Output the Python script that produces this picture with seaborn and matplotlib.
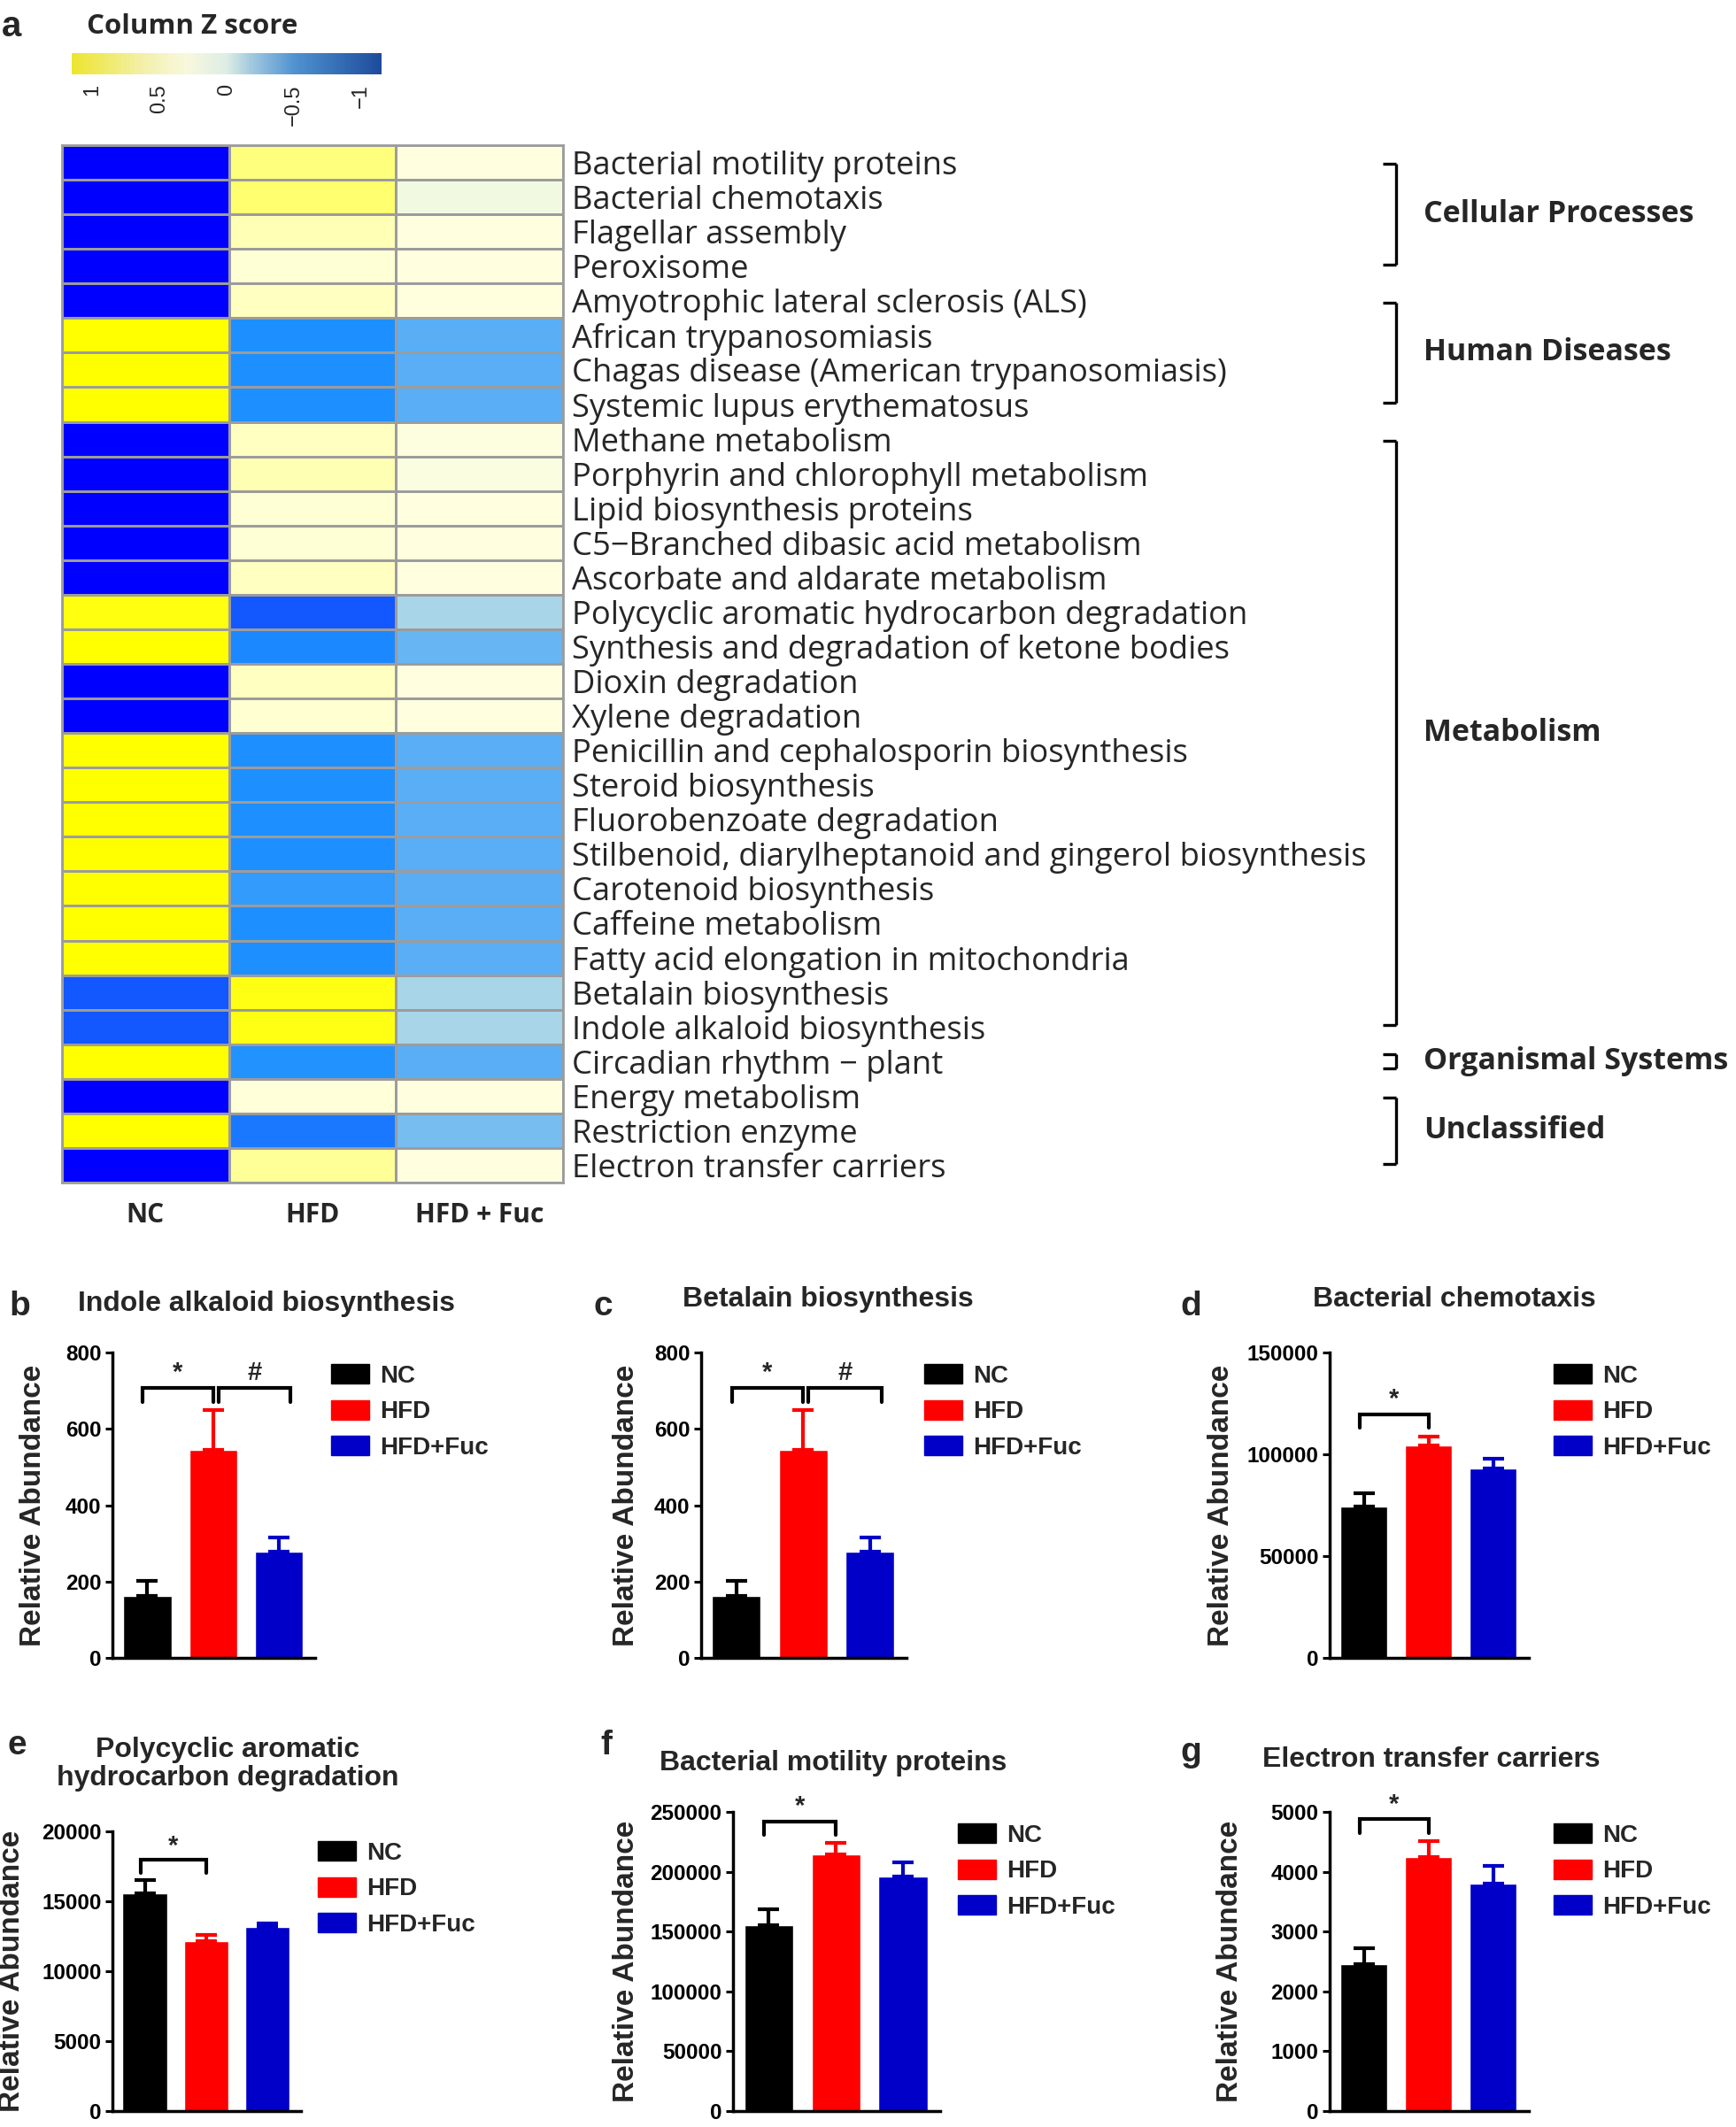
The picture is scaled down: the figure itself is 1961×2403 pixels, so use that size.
import numpy as np
import pandas as pd
import matplotlib
matplotlib.use("Agg")
import matplotlib.pyplot as plt
import seaborn as sns
from matplotlib.colors import LinearSegmentedColormap, Normalize
from matplotlib.cm import ScalarMappable
from matplotlib.lines import Line2D
from matplotlib.patches import Patch
from matplotlib.transforms import blended_transform_factory

# ---- heatmap data (column Z scores) ----
pathways = [
    "Bacterial motility proteins", "Bacterial chemotaxis", "Flagellar assembly",
    "Peroxisome", "Amyotrophic lateral sclerosis (ALS)", "African trypanosomiasis",
    "Chagas disease (American trypanosomiasis)", "Systemic lupus erythematosus",
    "Methane metabolism", "Porphyrin and chlorophyll metabolism",
    "Lipid biosynthesis proteins", "C5\u2212Branched dibasic acid metabolism",
    "Ascorbate and aldarate metabolism", "Polycyclic aromatic hydrocarbon degradation",
    "Synthesis and degradation of ketone bodies", "Dioxin degradation",
    "Xylene degradation", "Penicillin and cephalosporin biosynthesis",
    "Steroid biosynthesis", "Fluorobenzoate degradation",
    "Stilbenoid, diarylheptanoid and gingerol biosynthesis",
    "Carotenoid biosynthesis", "Caffeine metabolism",
    "Fatty acid elongation in mitochondria", "Betalain biosynthesis",
    "Indole alkaloid biosynthesis", "Circadian rhythm \u2212 plant",
    "Energy metabolism", "Restriction enzyme", "Electron transfer carriers",
]
z_nc = [-1.15, -1.15, -1.15, -1.15, -1.15, 1.15, 1.15, 1.15, -1.15, -1.15,
        -1.15, -1.15, -1.15, 1.10, 1.15, -1.15, -1.15, 1.15, 1.15, 1.15,
        1.15, 1.15, 1.15, 1.15, -0.82, -0.82, 1.15, -1.15, 1.15, -1.15]
z_hfd = [0.70, 0.75, 0.50, 0.38, 0.46, -0.60, -0.60, -0.60, 0.46, 0.51,
         0.38, 0.38, 0.46, -0.82, -0.63, 0.46, 0.40, -0.60, -0.60, -0.60,
         -0.60, -0.51, -0.60, -0.60, 1.08, 1.08, -0.58, 0.37, -0.69, 0.61]
z_fuc = [0.35, 0.29, 0.35, 0.35, 0.36, -0.35, -0.35, -0.35, 0.34, 0.33,
         0.35, 0.35, 0.35, -0.02, -0.29, 0.35, 0.35, -0.35, -0.35, -0.35,
         -0.35, -0.36, -0.35, -0.35, -0.02, -0.02, -0.35, 0.35, -0.22, 0.35]
heat_cols = ["NC", "HFD", "HFD + Fuc"]

groups = ["Cellular Processes", "Human Diseases", "Metabolism",
          "Organismal Systems", "Unclassified"]
group_first = [0, 4, 8, 26, 27]
group_last = [3, 7, 25, 26, 29]

cbar_ticks = [1, 0.5, 0, -0.5, -1]
cbar_labels = ["1", "0.5", "0", "\u22120.5", "\u22121"]

# ---- bar panel data ----
bar_groups = ["NC", "HFD", "HFD+Fuc"]
bar_colors = ["#000000", "#FF0000", "#0000C8"]

titles = ["Indole alkaloid biosynthesis", "Betalain biosynthesis",
          "Bacterial chemotaxis", "Polycyclic aromatic\nhydrocarbon degradation",
          "Bacterial motility proteins", "Electron transfer carriers"]
letters = ["b", "c", "d", "e", "f", "g"]
means = [[162, 546, 278], [162, 546, 278], [74400, 104500, 93200],
         [15550, 12160, 13170], [155100, 214200, 196300], [2450, 4250, 3800]]
sems = [[39, 103, 37], [39, 103, 37], [6500, 4400, 4600],
        [960, 430, 270], [13800, 9700, 11400], [275, 266, 305]]
ymaxes = [800, 800, 150000, 20000, 250000, 5000]
ysteps = [200, 200, 50000, 5000, 50000, 1000]
comparisons = [[(0, 1, "*"), (1, 2, "#")], [(0, 1, "*"), (1, 2, "#")],
               [(0, 1, "*")], [(0, 1, "*")], [(0, 1, "*")], [(0, 1, "*")]]

sns.set_theme(style="white")
plt.rcParams["font.family"] = ["Liberation Sans", "DejaVu Sans"]
plt.rcParams["axes.unicode_minus"] = True

W, H = 1961, 2403
fig = plt.figure(figsize=(W / 100, H / 100), dpi=100)


def px_axes(x0, y0, x1, y1):
    return fig.add_axes([x0 / W, 1 - y1 / H, (x1 - x0) / W, (y1 - y0) / H])


ui_font = ["Open Sans", "DejaVu Sans"]

# ---- panel a: heatmap ----
zdf = pd.DataFrame({heat_cols[0]: z_nc, heat_cols[1]: z_hfd, heat_cols[2]: z_fuc},
                   index=pathways)
zlim = 2 / np.sqrt(3)
heat_cmap = LinearSegmentedColormap.from_list(
    "heat", [(0.0, "#0000FF"), ((zlim - 0.6) / (2 * zlim), "#1E90FF"),
             (0.5, "#ADD8E6"), ((zlim + 0.35) / (2 * zlim), "#FFFFE0"),
             (1.0, "#FFFF00")])
ax_hm = px_axes(70, 164, 636, 1336)
sns.heatmap(zdf, cmap=heat_cmap, vmin=-zlim, vmax=zlim, linewidths=2.0,
            linecolor="#9c9c9c", cbar=False, ax=ax_hm)
for s in ax_hm.spines.values():
    s.set_visible(True)
    s.set_color("#9c9c9c")
    s.set_linewidth(2.0)
ax_hm.yaxis.tick_right()
ax_hm.set_yticks(np.arange(len(pathways)) + 0.5)
ax_hm.set_yticklabels(pathways, rotation=0, fontsize=26.2, family=ui_font)
ax_hm.set_xticklabels(heat_cols, rotation=0, fontsize=21.5, fontweight="bold",
                      family=ui_font)
ax_hm.tick_params(axis="y", length=0, pad=7)
ax_hm.tick_params(axis="x", length=0, pad=16)
ax_hm.set_xlabel("")
ax_hm.set_ylabel("")

# colour key
cbar_cmap = LinearSegmentedColormap.from_list(
    "key", [(0.0, "#1E4B9C"), (0.28, "#4F92D0"), (0.43, "#A9CDE0"),
            (0.5, "#DDEDE5"), (0.63, "#F8F8DD"), (0.76, "#F3F0B0"),
            (1.0, "#EDE52E")])
cax = px_axes(81, 60, 431, 84)
cb = fig.colorbar(ScalarMappable(norm=Normalize(-zlim, zlim), cmap=cbar_cmap),
                  cax=cax, orientation="horizontal")
cb.outline.set_visible(False)
cax.invert_xaxis()
cb.set_ticks(cbar_ticks)
cb.set_ticklabels(cbar_labels)
cax.tick_params(axis="x", length=0, pad=8, labelsize=17, labelrotation=90)
fig.text(98 / W, 1 - 30 / H, "Column Z score", fontsize=22.5, fontweight="bold",
         family=ui_font, va="center", ha="left")
fig.text(2 / W, 1 - 30 / H, "a", fontsize=29, fontweight="bold", va="center")

# category brackets
trans = blended_transform_factory(fig.transFigure, ax_hm.transData)
bx, tx = 1577 / W, 1562 / W
for name, i0, i1 in zip(groups, group_first, group_last):
    if i0 == i1:
        y0, y1 = i0 + 0.3, i1 + 0.7
    else:
        y0, y1 = i0 + 0.55, i1 + 0.45
    for line in ([bx, bx], [y0, y1]), ([tx, bx], [y0, y0]), ([tx, bx], [y1, y1]):
        fig.add_artist(Line2D(line[0], line[1], transform=trans, color="black",
                              lw=2.4, solid_capstyle="butt"))
    fig.text(1608 / W, (y0 + y1) / 2, name, transform=trans, fontsize=24.5,
             fontweight="bold", family=ui_font, va="center", ha="left")

# ---- bar panels b-g ----
axes_px = [(127, 1528, 356, 1873), (792, 1528, 1024, 1873),
           (1502, 1528, 1727, 1873), (127, 2069, 340, 2385),
           (828, 2047, 1062, 2385), (1502, 2047, 1727, 2385)]
title_xy = [(301, 1473), (935, 1468), (1643, 1468), (257, 1993),
            (941, 1992), (1617, 1988)]
letter_xy = [(10, 1476), (670, 1476), (1333, 1476), (8, 1972),
             (678, 1972), (1333, 1980)]
ylabel_x = [38, 708, 1379, 14, 708, 1390]
legend_xy = [(374, 1541), (1044, 1541), (1755, 1541), (359, 2080),
             (1082, 2060), (1755, 2060)]

for k in range(6):
    ax = px_axes(*axes_px[k])
    x = np.arange(3)
    sns.barplot(x=x, y=means[k], hue=x, palette=bar_colors, width=0.73,
                saturation=1, legend=False, native_scale=True, ax=ax)
    for i in range(3):
        ax.errorbar(x[i], means[k][i], yerr=[[0], [sems[k][i]]], fmt="none",
                    ecolor=bar_colors[i], elinewidth=3, capsize=8.5, capthick=3,
                    zorder=1)
    ymax = ymaxes[k]
    ax.set_xlim(-0.53, 2.55)
    ax.set_ylim(0, ymax)
    ax.set_yticks(np.arange(0, ymax + 1, ysteps[k]))
    ax.set_yticklabels([str(v) for v in np.arange(0, ymax + 1, ysteps[k])],
                       fontsize=17.5, fontweight="bold")
    ax.set_xticks([])
    ax.set_xlabel("")
    ax.set_ylabel("")
    ax.patch.set_alpha(0)
    for side in ["top", "right"]:
        ax.spines[side].set_visible(False)
    for side in ["left", "bottom"]:
        ax.spines[side].set_color("black")
        ax.spines[side].set_linewidth(2.5)
    ax.tick_params(axis="y", direction="out", length=6, width=2.2, pad=3,
                   colors="black", left=True)

    tops = np.array(means[k]) + np.array(sems[k])
    for a, b, sym in comparisons[k]:
        yb = tops[a:b + 1].max() + 0.072 * ymax
        if a == 0:
            xa, xb = a - 0.07, b
        else:
            xa, xb = a + 0.08, b + 0.18
        ax.plot([xa, xa, xb, xb], [yb - 0.045 * ymax, yb, yb, yb - 0.045 * ymax],
                color="black", lw=3, clip_on=False, solid_joinstyle="miter")
        ax.text((xa + xb) / 2, yb + 0.05 * ymax, sym, ha="center", va="center",
                fontsize=21, fontweight="bold", clip_on=False)

    handles = [Patch(facecolor=c, edgecolor=c) for c in bar_colors]
    ax.legend(handles, bar_groups, loc="upper left",
              bbox_to_anchor=(legend_xy[k][0] / W, 1 - legend_xy[k][1] / H),
              bbox_transform=fig.transFigure, frameon=False, borderpad=0,
              borderaxespad=0, handlelength=1.55, handleheight=0.85,
              handletextpad=0.45, labelspacing=0.5,
              prop={"size": 20, "weight": "bold"})

    fig.text(title_xy[k][0] / W, 1 - title_xy[k][1] / H, titles[k], fontsize=23,
             fontweight="bold", ha="center", va="center", linespacing=1.1)
    fig.text(letter_xy[k][0] / W, 1 - letter_xy[k][1] / H, letters[k],
             fontsize=28, fontweight="bold", ha="left", va="center")
    y_mid = (axes_px[k][1] + axes_px[k][3]) / 2
    fig.text(ylabel_x[k] / W, 1 - y_mid / H, "Relative Abundance", fontsize=24,
             fontweight="bold", rotation=90, ha="center", va="center")

fig.savefig("out.png", dpi=100)
